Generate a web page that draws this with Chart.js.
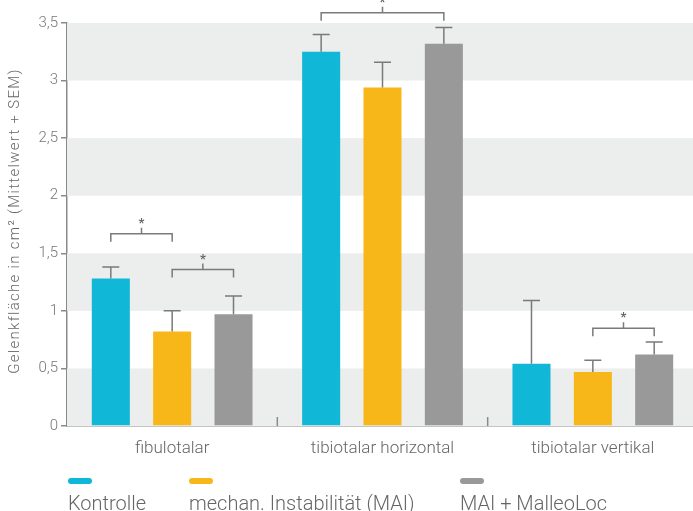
<!DOCTYPE html>
<html>
<head>
<meta charset="utf-8">
<script src="https://cdn.jsdelivr.net/npm/chart.js@4"></script>
<style>
  html, body { margin: 0; padding: 0; background: #fff; overflow: hidden; }
  #wrap { position: relative; width: 698px; height: 511px; }
  #legend { position: absolute; left: 0; top: 0; width: 698px; height: 511px; pointer-events: none;
            font-family: Roboto, "DejaVu Sans", sans-serif; font-weight: 300; color: #666; }
  .item { position: absolute; top: 478px; }
  .pill { width: 24px; height: 6px; border-radius: 3px; margin-bottom: 8px; }
  .txt { font-size: 20px; line-height: 22px; white-space: nowrap; }
  #ytitle { position: absolute; left: 14px; top: 221px; transform: translate(-50%, -50%) rotate(-90deg);
            font-family: Roboto, "DejaVu Sans", sans-serif; font-weight: 300; font-size: 15px;
            letter-spacing: 1.3px; color: #666; white-space: nowrap; }
</style>
</head>
<body>
<div id="wrap">
  <canvas id="c"></canvas>
  <div id="legend"></div>
  <div id="ytitle">Gelenkfläche in cm² (Mittelwert + SEM)</div>
</div>
<script>
const categories = ["fibulotalar", "tibiotalar horizontal", "tibiotalar vertikal"];
const seriesNames = ["Kontrolle", "mechan. Instabilität (MAI)", "MAI + MalleoLoc"];
const kontrolle = [1.28, 3.25, 0.54];
const mai = [0.82, 2.94, 0.47];
const maiMalleoLoc = [0.97, 3.32, 0.62];
const semKontrolle = [0.10, 0.15, 0.55];
const semMai = [0.18, 0.22, 0.10];
const semMaiMalleoLoc = [0.16, 0.14, 0.11];
const yTicks = [0, 0.5, 1, 1.5, 2, 2.5, 3, 3.5];
// significance brackets: category index, series from, series to, bracket level (value units)
const bracketCategory = [0, 0, 1, 2];
const bracketFrom = [0, 1, 0, 1];
const bracketTo = [1, 2, 2, 2];
const bracketLevel = [1.67, 1.36, 3.59, 0.85];

const colors = ["#10B7D6", "#F7B718", "#999999"];
const seriesValues = [kontrolle, mai, maiMalleoLoc];
const seriesSem = [semKontrolle, semMai, semMaiMalleoLoc];
const FONT = 'Roboto, "DejaVu Sans", sans-serif';
const AXIS = "#8a8a8a";

// HTML legend
const legendX = [68, 189, 460];
const legendEl = document.getElementById("legend");
seriesNames.forEach((n, i) => {
  const d = document.createElement("div");
  d.className = "item";
  d.style.left = legendX[i] + "px";
  d.innerHTML = '<div class="pill" style="background:' + colors[i] + '"></div><div class="txt">' + n + '</div>';
  legendEl.appendChild(d);
});

const bandsPlugin = {
  id: "bands",
  beforeDatasetsDraw(chart) {
    const { ctx, chartArea: a, scales: { y } } = chart;
    ctx.save();
    ctx.fillStyle = "#ECEDED";
    for (let i = 0; i + 1 < yTicks.length; i += 2) {
      const t = y.getPixelForValue(yTicks[i + 1]);
      const b = y.getPixelForValue(yTicks[i]);
      ctx.fillRect(a.left, t, a.right - a.left, b - t);
    }
    ctx.restore();
  }
};

const overlayPlugin = {
  id: "overlay",
  afterDatasetsDraw(chart) {
    const { ctx, chartArea: a, scales: { x, y } } = chart;
    ctx.save();
    // category separator ticks
    ctx.strokeStyle = AXIS;
    ctx.lineWidth = 1.5;
    for (let i = 0; i + 1 < categories.length; i++) {
      const sx = (x.getPixelForValue(i) + x.getPixelForValue(i + 1)) / 2;
      ctx.beginPath();
      ctx.moveTo(sx, a.bottom);
      ctx.lineTo(sx, a.bottom - 9);
      ctx.stroke();
    }
    // error bars
    ctx.strokeStyle = "#7a7a7a";
    ctx.lineWidth = 1.5;
    seriesValues.forEach((vals, i) => {
      const meta = chart.getDatasetMeta(i);
      vals.forEach((v, j) => {
        const bar = meta.data[j];
        const top = y.getPixelForValue(v + seriesSem[i][j]);
        ctx.beginPath();
        ctx.moveTo(bar.x, bar.y);
        ctx.lineTo(bar.x, top);
        ctx.moveTo(bar.x - 8.5, top);
        ctx.lineTo(bar.x + 8.5, top);
        ctx.stroke();
      });
    });
    // brackets
    ctx.strokeStyle = "#7a7a7a";
    ctx.fillStyle = "#666";
    ctx.font = "bold 13px " + FONT;
    ctx.textAlign = "center";
    ctx.textBaseline = "middle";
    bracketLevel.forEach((lv, k) => {
      const c = bracketCategory[k];
      const x1 = chart.getDatasetMeta(bracketFrom[k]).data[c].x;
      const x2 = chart.getDatasetMeta(bracketTo[k]).data[c].x;
      const yy = y.getPixelForValue(lv);
      const xm = (x1 + x2) / 2;
      ctx.beginPath();
      ctx.moveTo(x1, yy + 8);
      ctx.lineTo(x1, yy);
      ctx.lineTo(x2, yy);
      ctx.lineTo(x2, yy + 8);
      ctx.moveTo(xm, yy);
      ctx.lineTo(xm, yy - 6);
      ctx.stroke();
      ctx.fillText("*", xm, yy - 10);
    });
    ctx.restore();
  }
};

new Chart(document.getElementById("c"), {
  type: "bar",
  data: {
    labels: categories,
    datasets: seriesNames.map((n, i) => ({
      label: n,
      data: seriesValues[i],
      backgroundColor: colors[i],
      borderWidth: 0,
      categoryPercentage: 0.875,
      barPercentage: 0.62
    }))
  },
  options: {
    responsive: true,
    maintainAspectRatio: false,
    animation: false,
    layout: { padding: { top: 23, right: 0, left: 0, bottom: 0 } },
    plugins: { legend: { display: false }, tooltip: { enabled: false } },
    scales: {
      x: {
        grid: { display: false, drawTicks: false },
        border: { display: true, color: AXIS, width: 1.5 },
        ticks: { color: "#666", font: { family: FONT, size: 17, weight: 300 }, padding: 13 },
        afterFit(s) { s.height = 85; }
      },
      y: {
        min: 0, max: 3.5,
        afterBuildTicks(s) { s.ticks = yTicks.map(v => ({ value: v })); },
        grid: { drawOnChartArea: false, drawTicks: true, tickLength: 6, color: AXIS, lineWidth: 1.5 },
        border: { display: true, color: AXIS, width: 1.5 },
        ticks: {
          color: "#777", padding: 3,
          font: { family: FONT, size: 15, weight: 300 },
          callback: v => String(v).replace(".", ",")
        },
        title: { display: false },
        afterFit(s) { s.width = 67; }
      }
    }
  },
  plugins: [bandsPlugin, overlayPlugin]
});
</script>
</body>
</html>
